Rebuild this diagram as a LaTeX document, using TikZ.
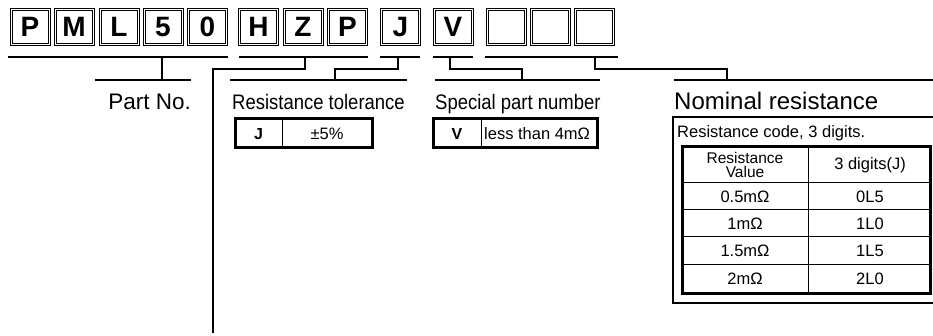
\documentclass[tikz,border=0pt]{standalone}
\usepackage{fontspec}
\setmainfont{Liberation Sans}
\newfontfamily\narrowfont[FakeStretch=0.88]{Liberation Sans}
\begin{document}
\begin{tikzpicture}[x=1pt,y=-1pt,
  cbox/.style={draw, line width=1.1, double, double distance=0.8, minimum width=38, minimum height=35, inner sep=0, text height=20, text depth=0, font=\bfseries\fontsize{28}{28}\selectfont},
  bar/.style={line width=2.8},
  thickbox/.style={draw, line width=3},
  thinline/.style={line width=1},
  lbl/.style={inner sep=0, anchor=base west},
  cell/.style={inner sep=0, font=\fontsize{16.5}{17}\selectfont}]
\useasboundingbox (0,0) rectangle (933,336);
% code boxes
\node[cbox] (b1) at (30,27) {P};
\node[cbox] (b2) at (74,27) {M};
\node[cbox] (b3) at (119,27) {L};
\node[cbox] (b4) at (163,27) {5};
\node[cbox] (b5) at (207.5,27) {0};
\node[cbox] (b6) at (258.5,27) {H};
\node[cbox] (b7) at (303,27) {Z};
\node[cbox] (b8) at (347.5,27) {P};
\node[cbox] (b9) at (400.5,27) {J};
\node[cbox] (b10) at (453,27) {V};
\node[cbox] (b11) at (506,27) {};
\node[cbox] (b12) at (550.5,27) {};
\node[cbox] (b13) at (594.5,27) {};
% coordinates
\coordinate (pa) at (8,57);   \coordinate (pb) at (228,57);
\coordinate (pc) at (162,57); \coordinate (pd) at (162,80);
\coordinate (pe) at (95,80);  \coordinate (pf) at (191,80);
\coordinate (ha) at (239,57); \coordinate (hb) at (368,57);
\coordinate (hc) at (305,57); \coordinate (hd) at (213,69); \coordinate (he) at (213,333);
\coordinate (ja) at (380,57); \coordinate (jb) at (420,57);
\coordinate (jc) at (398,57); \coordinate (jd) at (335,69); \coordinate (je) at (335,80);
\coordinate (jf) at (230,80); \coordinate (jg) at (407,80);
\coordinate (va) at (433,57); \coordinate (vb) at (473,57);
\coordinate (vc) at (450,57); \coordinate (vd) at (522,69); \coordinate (ve) at (522,80);
\coordinate (vf) at (435,80); \coordinate (vg) at (600,80);
\coordinate (na) at (485,57); \coordinate (nb) at (618,57);
\coordinate (nc) at (595,57); \coordinate (nd) at (727,69); \coordinate (ne) at (727,80);
\coordinate (nf) at (674,80); \coordinate (ng) at (935,80);
% brackets
\draw[bar] (pa) -- (pb);
\draw[bar] (pc) -- (pd);
\draw[bar] (pe) -- (pf);
\draw[bar] (ha) -- (hb);
\draw[bar] (hc) |- (hd) -- (he);
\draw[bar] (ja) -- (jb);
\draw[bar] (jc) |- (jd) -- (je);
\draw[bar] (jf) -- (jg);
\draw[bar] (va) -- (vb);
\draw[bar] (vc) |- (vd) -- (ve);
\draw[bar] (vf) -- (vg);
\draw[bar] (na) -- (nb);
\draw[bar] (nc) |- (nd) -- (ne);
\draw[bar] (nf) -- (ng);
% labels
\node[inner sep=0, anchor=base east, font=\fontsize{22.5}{24}\selectfont] (lpart) at (191,110) {Part No.};
\node[lbl, font=\narrowfont\fontsize{21}{22}\selectfont] (ltol) at (232,110) {Resistance tolerance};
\node[lbl, font=\narrowfont\fontsize{21}{22}\selectfont] (lspec) at (435,110) {Special part number};
\node[lbl, font=\fontsize{24}{26}\selectfont] (lnom) at (674,110) {Nominal resistance};
% tolerance table
\draw[thinline] (282,119) -- (282,148);
\draw[thickbox] (235,119) rectangle (372,148);
\node[cell, font=\bfseries\fontsize{16}{17}\selectfont] (tj) at (258.5,134) {J};
\node[cell] (tv) at (327,134) {±5\%};
% special table
\draw[thinline] (481,119) -- (481,148);
\draw[thickbox] (433,119) rectangle (597,148);
\node[cell, font=\bfseries\fontsize{16}{17}\selectfont] (sv) at (457,134) {V};
\node[cell, anchor=west] (st) at (484,134) {less than 4mΩ};
% nominal
\draw[line width=2] (673,117) rectangle (936,303);
\node[lbl, font=\fontsize{16.5}{18}\selectfont] (rc) at (677,138) {Resistance code, 3 digits.};
\draw[thinline] (808,147) -- (808,293);
\foreach \yy in {183,210,237,265} \draw[thinline] (682,\yy) -- (931,\yy);
\draw[thickbox] (682,147) rectangle (930.5,293);
\node[cell, align=center, font=\fontsize{15.5}{14}\selectfont] (h1) at (745,165) {Resistance\\Value};
\node[cell] (h2) at (870,165) {3 digits(J)};
\node[cell] (r1a) at (745,196.5) {0.5mΩ};
\node[cell] (r1b) at (870,196.5) {0L5};
\node[cell] (r2a) at (745,223.5) {1mΩ};
\node[cell] (r2b) at (870,223.5) {1L0};
\node[cell] (r3a) at (745,251) {1.5mΩ};
\node[cell] (r3b) at (870,251) {1L5};
\node[cell] (r4a) at (745,279) {2mΩ};
\node[cell] (r4b) at (870,279) {2L0};
\end{tikzpicture}
\end{document}
